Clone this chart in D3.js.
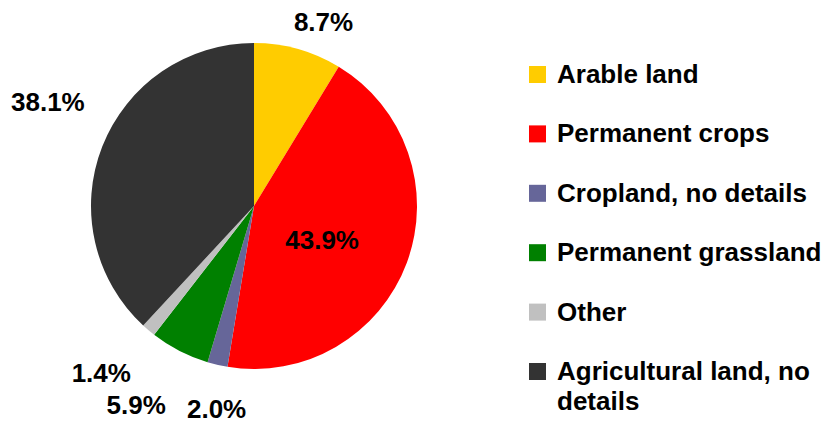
<!DOCTYPE html>
<html>
<head>
<meta charset="utf-8">
<script src="https://cdn.jsdelivr.net/npm/d3@7"></script>
<style>
  html, body { margin: 0; padding: 0; background: #fff; }
  svg text { font-family: "Liberation Sans", Arial, sans-serif; font-weight: bold; fill: #000; }
</style>
</head>
<body>
<svg id="chart" width="830" height="425"></svg>
<script>
// Land-use shares (percent)
const categories = ["Arable land", "Permanent crops", "Cropland, no details",
                    "Permanent grassland", "Other", "Agricultural land, no details"];
const shares = [8.7, 43.9, 2.0, 5.9, 1.4, 38.1];
const colors = ["#FFCC00", "#FF0000", "#666699", "#008000", "#C0C0C0", "#333333"];
const legendLines = [["Arable land"], ["Permanent crops"], ["Cropland, no details"],
                     ["Permanent grassland"], ["Other"], ["Agricultural land, no", "details"]];

// Label placement: distance from centre and a small angular nudge (degrees)
const labelDist = [197, 76, 206, 231, 226, 231];
const labelNudge = [5, 6, -2.5, 3.5, 2.2, 5.4];

const svg = d3.select("#chart");
const cx = 254, cy = 206, radius = 163;

const pie = d3.pie().sort(null).value(d => d)
  .startAngle(0).endAngle(2 * Math.PI);
const arcs = pie(shares);
const arc = d3.arc().innerRadius(0).outerRadius(radius);

const g = svg.append("g").attr("transform", `translate(${cx},${cy})`);

g.selectAll("path.slice")
  .data(arcs)
  .join("path")
  .attr("class", "slice")
  .attr("d", arc)
  .attr("fill", (d, i) => colors[i]);

const fmt = d3.format(".1f");
g.selectAll("text.val")
  .data(arcs)
  .join("text")
  .attr("class", "val")
  .attr("text-anchor", "middle")
  .attr("dy", "0.36em")
  .style("font-size", "26px")
  .attr("transform", (d, i) => {
    const a = (d.startAngle + d.endAngle) / 2 + labelNudge[i] * Math.PI / 180;
    const r = labelDist[i];
    return `translate(${r * Math.sin(a)},${-r * Math.cos(a)})`;
  })
  .text(d => fmt(d.data) + "%");

// Legend
const legendY = d3.scalePoint().domain(categories).range([83, 380]);
const legend = svg.append("g");
const items = legend.selectAll("g.item")
  .data(categories)
  .join("g")
  .attr("class", "item")
  .attr("transform", d => `translate(529,${legendY(d)})`);

items.append("rect")
  .attr("x", 0).attr("y", -17)
  .attr("width", 17).attr("height", 17)
  .attr("fill", (d, i) => colors[i]);

items.append("text")
  .attr("x", 28)
  .style("font-size", "26px")
  .each(function (d, i) {
    d3.select(this).selectAll("tspan")
      .data(legendLines[i])
      .join("tspan")
      .attr("x", 28)
      .attr("dy", (t, j) => j === 0 ? 0 : 30)
      .text(t => t);
  });
</script>
</body>
</html>
